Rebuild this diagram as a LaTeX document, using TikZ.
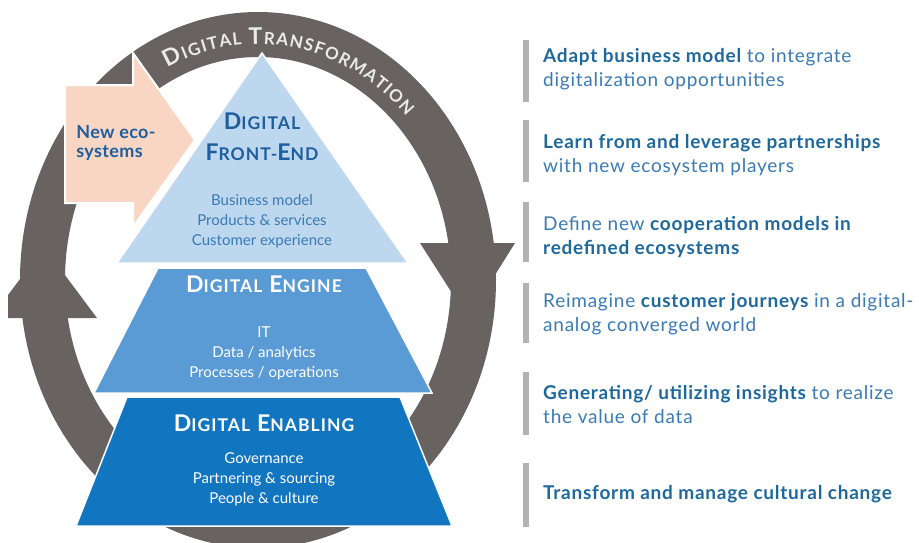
\documentclass[tikz,border=0pt]{standalone}
\usepackage{fontspec}
\setmainfont{Lato}
\usetikzlibrary{decorations.text}

\definecolor{ringgray}{RGB}{104,99,97}
\definecolor{frontblue}{RGB}{189,215,238}
\definecolor{engineblue}{RGB}{91,155,213}
\definecolor{enablingblue}{RGB}{17,117,192}
\definecolor{titleblue}{RGB}{31,94,158}
\definecolor{textblue}{RGB}{58,122,180}
\definecolor{keyblue}{RGB}{30,104,156}
\definecolor{ecopink}{RGB}{249,214,196}
\definecolor{bargray}{RGB}{178,178,178}

% first letter at the node size, the rest as small capitals
\newcommand{\capsword}[2]{#1{\fontsize{17.5}{17.5}\selectfont #2}}
\newcommand{\keyword}[1]{{\bfseries\color{keyblue}#1}}

\begin{document}
\begin{tikzpicture}[x=1pt, y=-1pt,
    layer/.style={draw=white, line width=1.5pt},
    title/.style={align=center, font=\bfseries\fontsize{23}{31}\selectfont\addfontfeature{LetterSpace=6}},
    body/.style={align=center, font=\fontsize{15}{20}\selectfont},
    item/.style={anchor=west, align=left, inner sep=0pt, text=textblue,
      font=\fontsize{19}{24}\selectfont\addfontfeature{LetterSpace=4}},
    bar/.style={draw=bargray, line width=6pt}]
  \useasboundingbox (0,0) rectangle (919,542);
  \clip (0,0) rectangle (919,542);

  % transformation cycle
  \draw[ringgray, line width=45pt] (258,280) ellipse [x radius=215.5, y radius=245.5];
  \fill[ringgray] (420,243) -- (515,243) -- (468,318) -- cycle;
  \fill[ringgray] (8,318) -- (97,318) -- (44,247) -- (8,295) -- cycle;
  \path[decorate, decoration={text along path, text align={fit to path},
      text={|\color{white!92!black}\bfseries\fontsize{23}{23}\selectfont|D|\color{white!92!black}\bfseries\fontsize{17}{17}\selectfont|IGITAL |\color{white!92!black}\bfseries\fontsize{23}{23}\selectfont|T|\color{white!92!black}\bfseries\fontsize{17}{17}\selectfont|RANSFORMATION}}]
    (258,280) ++(244:206 and 236) arc [start angle=244, end angle=316, x radius=206, y radius=236];

  % new ecosystems arrow
  \draw[fill=ecopink, draw=white, line width=2pt]
    (65,85) -- (133,85) -- (133,53) -- (195,140) -- (133,227) -- (133,203) -- (65,203) -- cycle;
  \node[text=titleblue, align=left, font=\bfseries\fontsize{18}{19}\selectfont\addfontfeature{LetterSpace=2}] (neweco) at (116,143) {New eco-\\systems};

  % pyramid
  \draw[layer, fill=frontblue] (262,53) -- (408,263) -- (117,263) -- cycle;
  \draw[layer, fill=engineblue] (158,268) -- (366,268) -- (432,393) -- (94,393) -- cycle;
  \draw[layer, fill=enablingblue] (127,397) -- (400,397) -- (452,526) -- (76,526) -- cycle;

  \node[title, text=titleblue] (fronttitle) at (262,137) {\capsword{D}{IGITAL}\\\capsword{F}{RONT-}\capsword{E}{ND}};
  \node[body, text=textblue] (frontbody) at (262,221) {Business model\\Products \& services\\Customer experience};
  \node[title, text=white] (enginetitle) at (264,284) {\capsword{D}{IGITAL} \capsword{E}{NGINE}};
  \node[body, text=white] (enginebody) at (264,353) {IT\\Data / analytics\\Processes / operations};
  \node[title, text=white] (enablingtitle) at (264,423) {\capsword{D}{IGITAL} \capsword{E}{NABLING}};
  \node[body, text=white] (enablingbody) at (264,479) {Governance\\Partnering \& sourcing\\People \& culture};

  % actions
  \foreach \ya/\yb in {40/102, 120/182, 202/262, 283/343, 372/435, 463/527}
    \draw[bar] (526,\ya) -- (526,\yb);
  \node[item] (adapt) at (543,69) {\keyword{Adapt business model} to integrate\\digitalization opportunities};
  \node[item] (learn) at (543,155) {\keyword{Learn from and leverage partnerships}\\with new ecosystem players};
  \node[item] (define) at (543,237) {Define new \keyword{cooperation models in}\\\keyword{redefined ecosystems}};
  \node[item] (reimagine) at (543,314) {Reimagine \keyword{customer journeys} in a digital-\\analog converged world};
  \node[item] (generate) at (543,405) {\keyword{Generating/ utilizing insights} to realize\\the value of data};
  \node[item] (transform) at (543,494) {\keyword{Transform and manage cultural change}};
\end{tikzpicture}
\end{document}
